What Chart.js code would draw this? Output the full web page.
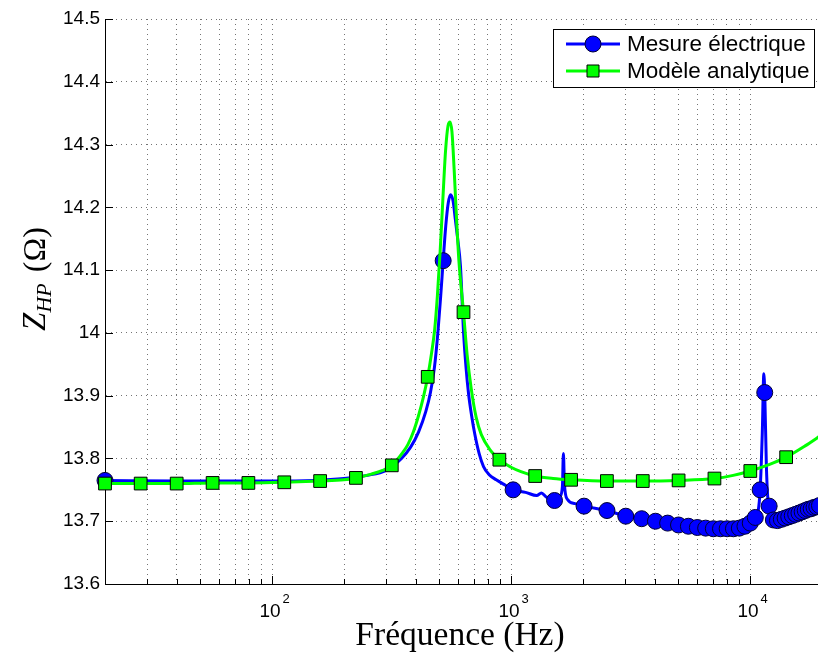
<!DOCTYPE html>
<html>
<head>
<meta charset="utf-8">
<script src="https://cdn.jsdelivr.net/npm/chart.js@4"></script>
<style>
  html, body { margin: 0; padding: 0; background: #fff; overflow: hidden; }
  #wrap { width: 818px; height: 654px; overflow: hidden; }
</style>
</head>
<body>
<div id="wrap"><canvas id="myChart" width="823" height="654"></canvas></div>
<script>
// measured impedance (Hz -> Ohm)
const measureFreq = [20, 40, 70, 100, 150, 200, 250, 300, 348, 380, 410, 440, 460, 478, 494, 508, 520, 533, 546, 559, 572, 585, 600,
  614, 633, 648, 664, 684, 704, 735, 767, 810, 867, 950,
  1020, 1150, 1280, 1340, 1400, 1520, 1600, 1640, 1656, 1672, 1720, 1850, 2020, 2520, 3020, 3520, 4020, 4520, 5020, 5520, 6020, 6520,
  7020, 7520, 8020, 8520, 9020, 9520, 10020, 10520, 10800, 11020, 11250, 11420, 11520, 11700, 11850, 12020, 12250, 12520, 13020,
  13520, 14020, 14520, 15020, 15520, 16020, 16520, 17020, 17520, 18020, 18520, 19020, 19520, 20000];
const measureZ = [13.765, 13.764, 13.764, 13.764, 13.765, 13.768, 13.773, 13.781, 13.800, 13.818, 13.842, 13.875, 13.905, 13.945,
  14.000, 14.060, 14.115, 14.170, 14.207, 14.220, 14.210, 14.180, 14.145,
  14.107, 14.000, 13.945, 13.903, 13.868, 13.840, 13.808, 13.787, 13.774, 13.766, 13.757,
  13.750, 13.746, 13.741, 13.745, 13.739, 13.733, 13.739, 13.755, 13.808, 13.760, 13.735, 13.728, 13.724, 13.717, 13.708, 13.704,
  13.700, 13.697, 13.694, 13.692, 13.690, 13.689, 13.688, 13.688, 13.688, 13.688, 13.689, 13.692, 13.697, 13.706, 13.715, 13.750,
  13.840, 13.935, 13.905, 13.790, 13.740, 13.724, 13.705, 13.702, 13.701,
  13.703, 13.705, 13.707, 13.709, 13.711, 13.713, 13.715, 13.717, 13.719, 13.720, 13.722, 13.723, 13.725, 13.726];
const measureMarkerFreq = [20, 520, 1020, 1520, 2020, 2520, 3020, 3520, 4020, 4520, 5020, 5520, 6020, 6520, 7020, 7520, 8020, 8520,
  9020, 9520, 10020, 10520, 11020, 11520, 12020, 12520, 13020, 13520, 14020, 14520, 15020, 15520, 16020, 16520, 17020, 17520,
  18020, 18520, 19020, 19520];
const measureMarkerZ = [13.765, 14.115, 13.750, 13.733, 13.724, 13.717, 13.708, 13.704, 13.700, 13.697, 13.694, 13.692, 13.690, 13.689,
  13.688, 13.688, 13.688, 13.688, 13.689, 13.692, 13.697, 13.706, 13.750, 13.905, 13.724, 13.702, 13.701, 13.703, 13.705, 13.707,
  13.709, 13.711, 13.713, 13.715, 13.717, 13.719, 13.720, 13.722, 13.723, 13.725];

// analytical model
const modelFreq = [20, 28.2, 39.9, 56.4, 79.6, 112.5, 158.9, 200, 224.4, 260, 290, 317, 332, 350, 370, 390, 410, 430, 448, 465, 479,
  492, 505, 518, 532, 545, 556, 566, 578, 590, 605, 632.5, 655, 682, 715, 751, 820, 893.4, 1000, 1100, 1262, 1500, 1783, 2518, 3557,
  5024, 7096, 8500, 10024, 12000, 14159, 17000, 20000];
const modelZ = [13.760, 13.760, 13.760, 13.761, 13.761, 13.762, 13.764, 13.766, 13.769, 13.775, 13.781, 13.789, 13.797, 13.808, 13.822,
  13.842, 13.868, 13.898, 13.930, 13.968, 14.005, 14.060, 14.130, 14.210, 14.290, 14.330, 14.336, 14.320, 14.260, 14.190, 14.115,
  14.033, 13.965, 13.910, 13.865, 13.838, 13.813, 13.798, 13.786, 13.779, 13.772, 13.768, 13.766, 13.764, 13.764,
  13.765, 13.768, 13.773, 13.780, 13.790, 13.802, 13.820, 13.838];
const modelMarkerFreq = [20, 28.2, 39.9, 56.4, 79.6, 112.5, 158.9, 224.4, 317, 448, 632.5, 893.4, 1262, 1783, 2518, 3557, 5024, 7096,
  10024, 14159];
const modelMarkerZ = [13.760, 13.760, 13.760, 13.761, 13.761, 13.762, 13.764, 13.769, 13.789, 13.930, 14.033, 13.798, 13.772, 13.766,
  13.764, 13.764, 13.765, 13.768, 13.780, 13.802];

const xGridTicks = [20, 30, 40, 50, 60, 70, 80, 90, 100, 200, 300, 400, 500, 600, 700, 800, 900, 1000, 2000, 3000, 4000, 5000, 6000,
  7000, 8000, 9000, 10000, 20000];
const xLabelTicks = [100, 1000, 10000];
const yTicks = [13.6, 13.7, 13.8, 13.9, 14.0, 14.1, 14.2, 14.3, 14.4, 14.5];

const seriesNames = ["Mesure électrique", "Modèle analytique"];
const BLUE = "#0000ff";
const GREEN = "#00ff00";
const SANS = '"Liberation Sans", Arial, Helvetica, sans-serif';
const SERIF = '"Liberation Serif", "Times New Roman", serif';

const pts = (xs, ys) => xs.map((x, i) => ({ x: x, y: ys[i] }));

const overlay = {
  id: "overlay",
  afterDraw(chart) {
    const { ctx, chartArea: a, scales: { x, y } } = chart;
    ctx.save();
    // inward tick marks (matlab style)
    ctx.strokeStyle = "#000";
    ctx.lineWidth = 1;
    xGridTicks.forEach(v => {
      const px = Math.round(x.getPixelForValue(v)) + 0.5;
      const len = xLabelTicks.includes(v) ? 8 : 5;
      ctx.beginPath();
      ctx.moveTo(px, a.bottom);
      ctx.lineTo(px, a.bottom - len);
      ctx.stroke();
    });
    yTicks.forEach(v => {
      const py = Math.round(y.getPixelForValue(v)) + 0.5;
      ctx.beginPath();
      ctx.moveTo(a.left, py);
      ctx.lineTo(a.left + 8, py);
      ctx.stroke();
    });

    // x tick labels 10^n
    ctx.fillStyle = "#000";
    ctx.textBaseline = "alphabetic";
    ctx.textAlign = "left";
    xLabelTicks.forEach(v => {
      const px = x.getPixelForValue(v);
      const exp = String(Math.round(Math.log10(v)));
      ctx.font = "19px " + SANS;
      const w = ctx.measureText("10").width;
      ctx.fillText("10", px - w / 2 - 2, 617);
      ctx.font = "13px " + SANS;
      ctx.fillText(exp, px + w / 2, 603);
    });

    // x title
    ctx.font = "33.5px " + SERIF;
    ctx.textAlign = "center";
    ctx.fillText("Fréquence (Hz)", 460, 645);

    // y title: Z_HP (Ω)
    ctx.translate(45, 279);
    ctx.rotate(-Math.PI / 2);
    ctx.textAlign = "left";
    const fBig = "italic 33px " + SERIF;
    const fSub = "italic 22px " + SERIF;
    const fUp = "32px " + SERIF;
    ctx.font = fBig; const wZ = ctx.measureText("Z").width;
    ctx.font = fSub; const wHP = ctx.measureText("HP").width;
    ctx.font = fUp; const wO = ctx.measureText(" (Ω)").width;
    let cx = -(wZ + wHP + 3 + wO) / 2;
    ctx.font = fBig; ctx.fillText("Z", cx, 0); cx += wZ;
    ctx.font = fSub; ctx.fillText("HP", cx, 6); cx += wHP + 3;
    ctx.font = fUp; ctx.fillText(" (Ω)", cx, 0);
    ctx.setTransform(1, 0, 0, 1, 0, 0);

    // legend box
    const bx = 553.5, by = 29.5, bw = 261, bh = 58;
    ctx.fillStyle = "#fff";
    ctx.fillRect(bx, by, bw, bh);
    ctx.strokeStyle = "#000";
    ctx.lineWidth = 1;
    ctx.strokeRect(bx, by, bw, bh);
    const rows = [
      { y: 44, color: BLUE, shape: "circle", text: seriesNames[0] },
      { y: 71, color: GREEN, shape: "square", text: seriesNames[1] }
    ];
    rows.forEach(r => {
      ctx.strokeStyle = r.color;
      ctx.lineWidth = 3;
      ctx.beginPath();
      ctx.moveTo(566, r.y);
      ctx.lineTo(620, r.y);
      ctx.stroke();
      ctx.fillStyle = r.color;
      ctx.strokeStyle = r.shape === "circle" ? "#000033" : "#000";
      ctx.lineWidth = 1;
      ctx.beginPath();
      if (r.shape === "circle") ctx.arc(593, r.y, 8, 0, Math.PI * 2);
      else ctx.rect(587, r.y - 6, 12, 12);
      ctx.fill();
      ctx.stroke();
      ctx.fillStyle = "#000";
      ctx.font = "22.5px " + SANS;
      ctx.textBaseline = "middle";
      ctx.fillText(r.text, 627, r.y + 1);
    });
    ctx.restore();
  }
};

const data = {
  datasets: [
    {
      label: seriesNames[1] + " markers",
      data: pts(modelMarkerFreq, modelMarkerZ),
      showLine: false,
      pointStyle: "rect",
      pointRadius: 9,
      pointBackgroundColor: GREEN,
      pointBorderColor: "#000",
      pointBorderWidth: 1,
      clip: false,
      order: 0
    },
    {
      label: seriesNames[1],
      data: pts(modelFreq, modelZ),
      borderColor: GREEN,
      borderWidth: 3,
      pointRadius: 0,
      cubicInterpolationMode: "monotone",
      order: 1
    },
    {
      label: seriesNames[0] + " markers",
      data: pts(measureMarkerFreq, measureMarkerZ),
      showLine: false,
      pointStyle: "circle",
      pointRadius: 8,
      pointBackgroundColor: BLUE,
      pointBorderColor: "#000033",
      pointBorderWidth: 1,
      clip: false,
      order: 2
    },
    {
      label: seriesNames[0],
      data: pts(measureFreq, measureZ),
      borderColor: BLUE,
      borderWidth: 3,
      pointRadius: 0,
      cubicInterpolationMode: "monotone",
      order: 3
    }
  ]
};

const config = {
  type: "line",
  data: data,
  options: {
    responsive: false,
    animation: false,
    devicePixelRatio: 1,
    layout: { autoPadding: false, padding: { top: 19, right: 1, left: 0, bottom: 0 } },
    plugins: {
      legend: { display: false },
      tooltip: { enabled: false }
    },
    scales: {
      x: {
        type: "logarithmic",
        min: 20,
        max: 20000,
        afterBuildTicks: (s) => { s.ticks = xGridTicks.map(v => ({ value: v })); },
        afterFit: (s) => { s.height = 70; },
        ticks: { display: false },
        grid: { color: "rgba(0,0,0,0.55)", lineWidth: 1, drawTicks: false },
        border: { display: true, color: "#000", width: 1, dash: [1, 4] }
      },
      y: {
        min: 13.6,
        max: 14.5,
        afterBuildTicks: (s) => { s.ticks = yTicks.map(v => ({ value: v })); },
        afterFit: (s) => { s.width = 105; },
        ticks: {
          color: "#000",
          padding: 5,
          font: { family: SANS, size: 19 },
          callback: (v) => (Math.abs(v - 14) < 1e-9 ? "14" : Number(v).toFixed(1))
        },
        grid: { color: "rgba(0,0,0,0.55)", lineWidth: 1, drawTicks: false },
        border: { display: true, color: "#000", width: 1, dash: [1, 4] }
      }
    }
  },
  plugins: [overlay]
};

new Chart(document.getElementById("myChart").getContext("2d"), config);
</script>
</body>
</html>
